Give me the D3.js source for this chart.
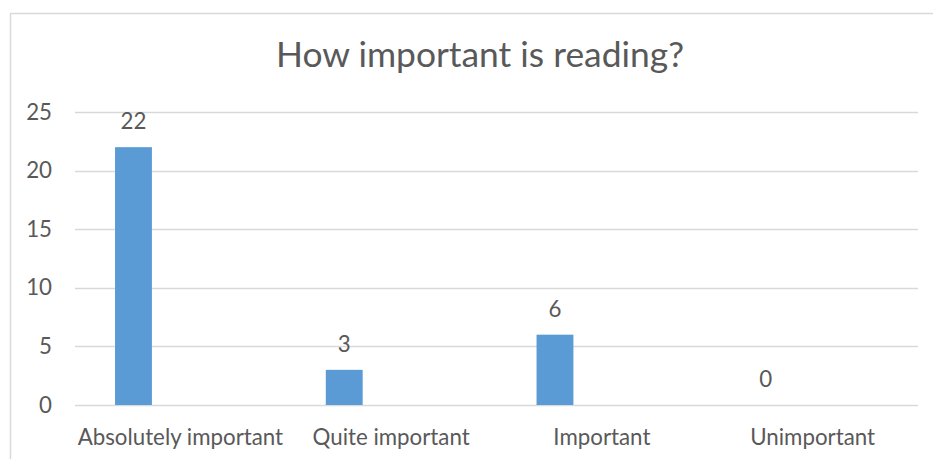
<!DOCTYPE html>
<html>
<head>
<meta charset="utf-8">
<script src="https://cdn.jsdelivr.net/npm/d3@7"></script>
<style>
  html, body { margin: 0; padding: 0; background: #fff; }
  svg { display: block; }
  text { font-family: Lato, "Noto Sans", sans-serif; fill: #595959; }
</style>
</head>
<body>
<svg id="chart" width="933" height="459"></svg>
<script>
const title = "How important is reading?";
const categories = ["Absolutely important", "Quite important", "Important", "Unimportant"];
const values = [22, 3, 6, 0];
const yTicks = [0, 5, 10, 15, 20, 25];

const W = 933, H = 459;
const plot = { left: 75, right: 918, top: 112, bottom: 405 };
const labelSize = 22.3;

const svg = d3.select("#chart");

// chart area frame (only top and left edges fall inside the view)
svg.append("rect")
  .attr("x", 10.5).attr("y", 13.5)
  .attr("width", 960).attr("height", 480)
  .attr("fill", "none").attr("stroke", "#d9d9d9").attr("stroke-width", 1.5);

const x = d3.scaleBand().domain(categories).range([plot.left, plot.right]);
const y = d3.scaleLinear().domain([0, 25]).range([plot.bottom, plot.top]);

// horizontal gridlines
svg.append("g").selectAll("line").data(yTicks).join("line")
  .attr("x1", plot.left).attr("x2", plot.right)
  .attr("y1", d => Math.round(y(d)) + 0.5).attr("y2", d => Math.round(y(d)) + 0.5)
  .attr("stroke", "#d9d9d9").attr("stroke-width", 1.5);

// y axis labels
const yAxis = d3.axisLeft(y).tickValues(yTicks).tickSize(0).tickPadding(0);
const gy = svg.append("g").attr("transform", `translate(52,0)`).call(yAxis);
gy.select(".domain").remove();
gy.selectAll("text").attr("font-size", labelSize).attr("fill", "#595959")
  .attr("font-family", "Lato, 'Noto Sans', sans-serif");

// x axis labels
const xAxis = d3.axisBottom(x).tickSize(0).tickPadding(0);
const gx = svg.append("g").attr("transform", `translate(0,${plot.bottom})`).call(xAxis);
gx.select(".domain").remove();
gx.selectAll("text").attr("font-size", labelSize).attr("fill", "#595959")
  .attr("font-family", "Lato, 'Noto Sans', sans-serif")
  .attr("dy", null).attr("y", 40);

// bars sit in the first slot of each category band
const barOffset = x.bandwidth() * 0.19;
const barWidth = x.bandwidth() * 0.175;

svg.append("g").selectAll("rect").data(values).join("rect")
  .attr("x", (d, i) => x(categories[i]) + barOffset)
  .attr("width", barWidth)
  .attr("y", d => y(d))
  .attr("height", d => y(0) - y(d))
  .attr("fill", "#5b9bd5");

// value labels
svg.append("g").selectAll("text").data(values).join("text")
  .attr("x", (d, i) => x(categories[i]) + barOffset + barWidth / 2)
  .attr("y", d => y(d) - 18)
  .attr("text-anchor", "middle")
  .attr("font-size", labelSize)
  .text(d => d);

// title
svg.append("text")
  .attr("x", 480).attr("y", 67)
  .attr("text-anchor", "middle")
  .attr("font-size", 35.4)
  .text(title);
</script>
</body>
</html>
